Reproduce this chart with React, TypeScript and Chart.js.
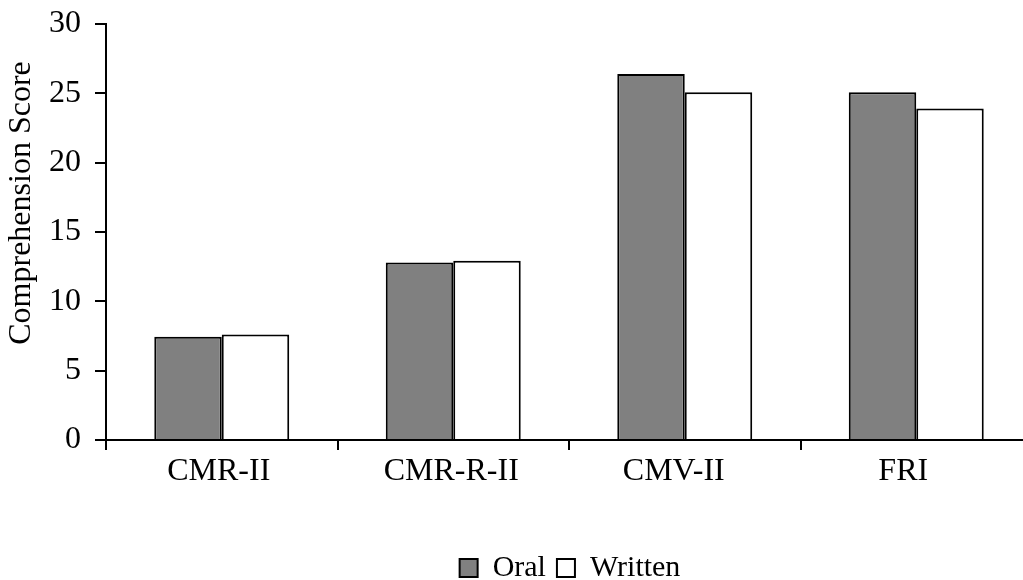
import React, { useEffect, useRef } from "react";
import { Chart, registerables } from "chart.js";

Chart.register(...registerables);

const categories = ["CMR-II", "CMR-R-II", "CMV-II", "FRI"];
const oralValues = [7.45, 12.8, 26.4, 25.07];
const writtenValues = [7.6, 12.93, 25.07, 23.9];
const yTicks = [0, 5, 10, 15, 20, 25, 30];
const seriesNames = ["Oral", "Written"];
const yTitle = "Comprehension Score";

const FONT = "'Liberation Serif', 'Times New Roman', serif";
const CW = 1138;
const CH = 593;
const labelNudge = [-3, -2, -11, -13];

const yTitlePlugin = {
  id: "yTitleDraw",
  afterDraw(chart: any) {
    const ctx = chart.ctx;
    ctx.save();
    ctx.translate(22, 203);
    ctx.rotate(-Math.PI / 2);
    ctx.font = `32px ${FONT}`;
    ctx.fillStyle = "#000";
    ctx.textAlign = "center";
    ctx.textBaseline = "middle";
    ctx.fillText(yTitle, 0, 0);
    ctx.restore();
  },
};

const legendShiftPlugin = {
  id: "legendShift",
  afterLayout(chart: any) {
    const lg = chart.legend;
    if (lg) {
      const shift = 54;
      lg.left += shift;
      lg.right += shift;
    }
  },
  beforeDraw(chart: any) {
    const sx = chart.scales.x;
    if (!sx) return;
    const items = sx.getLabelItems(chart.chartArea);
    if (items && !sx._nudged) {
      items.forEach((it: any, i: number) => {
        if (it.options && it.options.translation) {
          it.options.translation[0] += labelNudge[i] || 0;
        }
      });
      sx._nudged = true;
    }
  },
};

export default function App() {
  const ref = useRef<HTMLCanvasElement | null>(null);

  useEffect(() => {
    document.body.style.margin = "0";
    document.body.style.overflow = "hidden";
    const canvas = ref.current;
    if (!canvas) return;
    const chart = new Chart(canvas, {
      type: "bar",
      data: {
        labels: categories,
        datasets: [
          {
            label: seriesNames[0],
            data: oralValues,
            backgroundColor: "#808080",
            borderColor: "#000000",
            borderWidth: 2,
            categoryPercentage: 0.583,
            barPercentage: 1,
          },
          {
            label: seriesNames[1],
            data: writtenValues,
            backgroundColor: "#ffffff",
            borderColor: "#000000",
            borderWidth: 2,
            categoryPercentage: 0.583,
            barPercentage: 1,
          },
        ],
      },
      plugins: [yTitlePlugin, legendShiftPlugin],
      options: {
        animation: false,
        responsive: false,
        maintainAspectRatio: false,
        devicePixelRatio: 1,
        layout: { padding: { top: 24, right: 106, left: 0, bottom: 0 } },
        plugins: {
          tooltip: { enabled: false },
          legend: {
            position: "bottom",
            labels: {
              color: "#000",
              font: { family: FONT, size: 30 },
              boxWidth: 18,
              boxHeight: 18,
              padding: 11,
            },
          },
        },
        scales: {
          x: {
            grid: {
              offset: true,
              drawOnChartArea: false,
              drawTicks: true,
              tickLength: 10,
              color: "#000",
              lineWidth: 2,
            },
            border: { display: true, color: "#000", width: 2 },
            ticks: {
              color: "#000",
              font: { family: FONT, size: 32 },
              padding: 2,
              maxRotation: 0,
            },
            afterFit: (scale: any) => {
              scale.height = 102;
              scale.paddingLeft = 0;
              scale.paddingRight = 0;
            },
          },
          y: {
            min: 0,
            max: 30,
            afterBuildTicks: (scale: any) => {
              scale.ticks = yTicks.map((v) => ({ value: v }));
            },
            grid: {
              drawOnChartArea: false,
              drawTicks: true,
              tickLength: 11,
              color: "#000",
              lineWidth: 2,
            },
            border: { display: true, color: "#000", width: 2 },
            ticks: {
              color: "#000",
              font: { family: FONT, size: 32 },
              padding: 14,
            },
            title: { display: false },
            afterFit: (scale: any) => {
              scale.width = 106;
              scale.paddingTop = 0;
              scale.paddingBottom = 0;
            },
          },
        },
      },
    });
    return () => chart.destroy();
  }, []);

  return (
    <div style={{ position: "fixed", left: 0, top: 0, width: 1023, height: 580, overflow: "hidden" }}>
      <canvas ref={ref} width={CW} height={CH} style={{ width: CW, height: CH, display: "block" }} />
    </div>
  );
}
